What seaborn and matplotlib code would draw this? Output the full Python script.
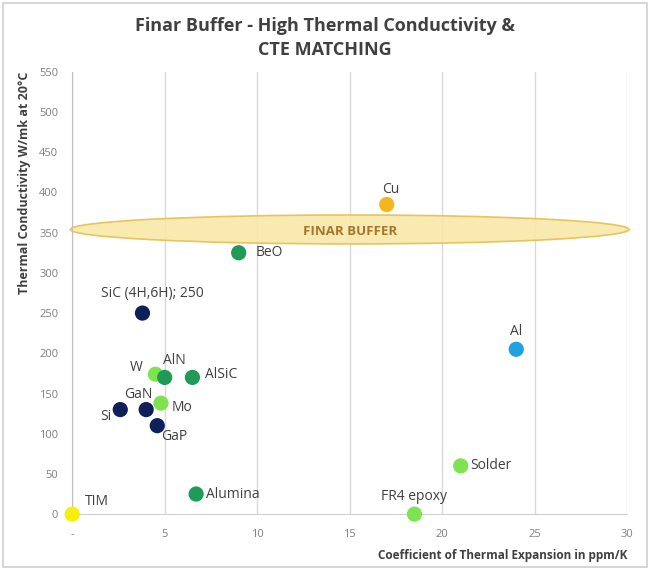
import matplotlib
matplotlib.use("Agg")
import matplotlib.pyplot as plt
import seaborn as sns
import pandas as pd
from matplotlib.patches import Ellipse, Rectangle

materials = ["TIM", "Si", "GaN", "GaP", "SiC (4H,6H); 250", "W", "AlN", "AlSiC",
             "Mo", "Alumina", "BeO", "Cu", "Al", "Solder", "FR4 epoxy"]
cte = [0.0, 2.6, 4.0, 4.6, 3.8, 4.5, 5.0, 6.5, 4.8, 6.7, 9.0, 17.0, 24.0, 21.0, 18.5]
conductivity = [0, 130, 130, 110, 250, 174, 170, 170, 138, 25, 325, 385, 205, 60, 0]
group = ["tim", "semi", "semi", "semi", "semi", "metal", "ceramic", "ceramic",
         "metal", "ceramic", "ceramic", "cu", "al", "metal", "metal"]
x_ticks = [0, 5, 10, 15, 20, 25, 30]
x_tick_labels = ["-", "5", "10", "15", "20", "25", "30"]
y_ticks = list(range(0, 551, 50))

palette = {"tim": "#f5f00a", "semi": "#0f1f5a", "metal": "#7ee34f",
           "ceramic": "#1f9b57", "cu": "#f4b51f", "al": "#1ea2e2"}

# label offsets in points (dx, dy, ha)
offsets = {
    "TIM": (9, 9, "left"), "Si": (-6, -5, "right"), "GaN": (-6, 11, "center"),
    "GaP": (3, -8, "left"), "SiC (4H,6H); 250": (7, 14, "center"),
    "W": (-9, 5, "right"), "AlN": (7, 12, "center"), "AlSiC": (9, 2, "left"),
    "Mo": (8, -3, "left"), "Alumina": (7, 0, "left"), "BeO": (12, 0, "left"),
    "Cu": (3, 11, "center"), "Al": (0, 13, "center"), "Solder": (7, 0, "left"),
    "FR4 epoxy": (0, 13, "center"),
}

df = pd.DataFrame({"material": materials, "cte": cte,
                   "k": conductivity, "group": group})

sns.set_style("white")
plt.rcParams["font.family"] = ["Open Sans", "DejaVu Sans"]

fig = plt.figure(figsize=(6.5, 5.7), dpi=100)
ax = fig.add_axes([0.111, 0.098, 0.854, 0.776])

ell = Ellipse((15.0, 354), 30.2, 36, facecolor="#f8e8a8", edgecolor="#e4c04e",
              lw=1.2, alpha=0.9, clip_on=False, zorder=1)
ax.add_patch(ell)
ax.text(15.0, 352, "FINAR BUFFER", color="#a8762a", fontsize=9.5,
        fontweight="bold", ha="center", va="center", zorder=2)

sns.scatterplot(data=df, x="cte", y="k", hue="group", palette=palette, s=120,
                edgecolor="none", legend=False, ax=ax, zorder=3, clip_on=False)

for m, xv, yv in zip(materials, cte, conductivity):
    dx, dy, ha = offsets[m]
    ax.annotate(m, (xv, yv), xytext=(dx, dy), textcoords="offset points",
                ha=ha, va="center", fontsize=10, color="#404040", zorder=4)

ax.set_xlim(0, 30)
ax.set_ylim(0, 550)
ax.set_xticks(x_ticks)
ax.set_xticklabels(x_tick_labels)
ax.set_yticks(y_ticks)
ax.tick_params(colors="#7f7f7f", labelsize=8, length=0)
ax.tick_params(axis="x", pad=11)
ax.tick_params(axis="y", pad=10)
ax.grid(axis="x", color="#d9d9d9", lw=1)
ax.set_axisbelow(True)
for side in ["top", "right"]:
    ax.spines[side].set_visible(False)
ax.spines["left"].set_color("#bfbfbf")
ax.spines["bottom"].set_color("#d0d0d0")

ax.set_xlabel("Coefficient of Thermal Expansion in ppm/K", loc="right",
              fontsize=8.5, fontweight="bold", color="#404040", labelpad=6)
ax.set_ylabel("Thermal Conductivity W/mk at 20\u00b0C", loc="top",
              fontsize=9, fontweight="bold", color="#404040", labelpad=6)

fig.text(0.5, 0.97, "Finar Buffer - High Thermal Conductivity &\nCTE MATCHING",
         ha="center", va="top", fontsize=13, fontweight="bold",
         color="#404040", linespacing=1.45)

fig.patches.append(Rectangle((0.004, 0.005), 0.992, 0.99, transform=fig.transFigure,
                             fill=False, edgecolor="#d0d0d0", lw=1.2))

fig.savefig("out.png", dpi=100)
